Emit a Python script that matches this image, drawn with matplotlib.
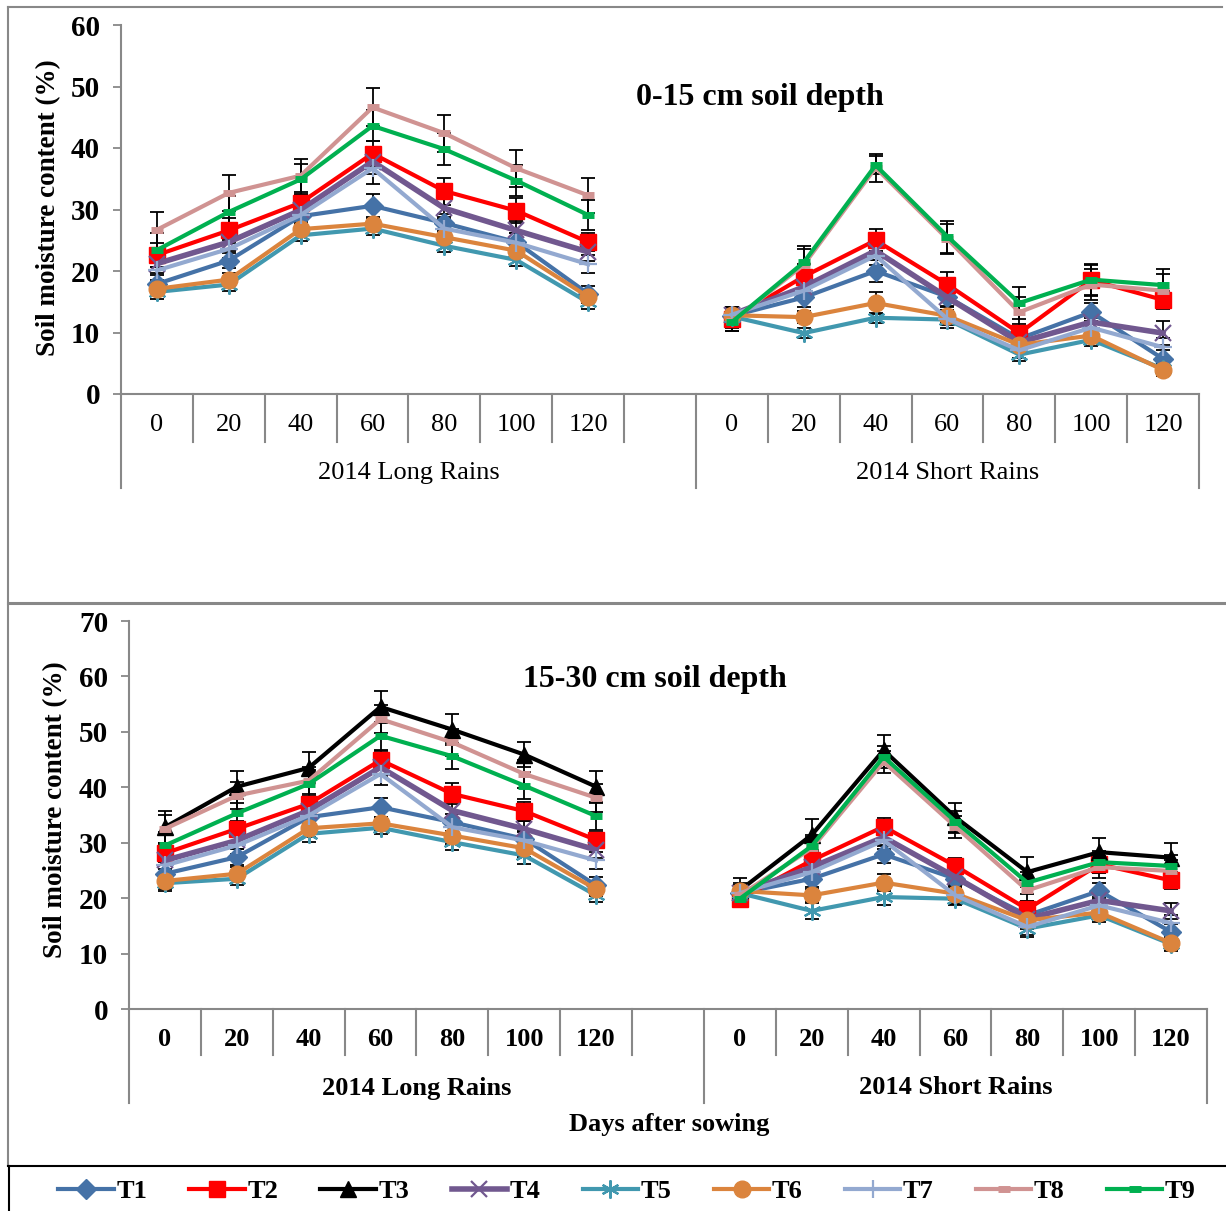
import numpy as np
import matplotlib
matplotlib.use("Agg")
import matplotlib.pyplot as plt
from matplotlib.lines import Line2D
import matplotlib.transforms as mtransforms

plt.rcParams['font.family'] = ['Liberation Serif', 'DejaVu Serif']

# ---------------- data ----------------
days = ["0", "20", "40", "60", "80", "100", "120"]
seasons = ["2014 Long Rains", "2014 Short Rains"]
series_names = ["T1", "T2", "T3", "T4", "T5", "T6", "T7", "T8", "T9"]

# 0-15 cm depth: 7 Long Rains values followed by 7 Short Rains values
d15_T1 = [17.9, 21.7, 28.9, 30.6, 27.8, 24.7, 16.3, 12.7, 15.7, 20.0, 15.8, 9.0, 13.3, 5.7]
d15_T2 = [22.6, 26.6, 31.1, 39.1, 33.0, 29.8, 24.7, 12.2, 19.1, 25.0, 17.8, 9.9, 18.5, 15.3]
d15_T4 = [21.2, 24.7, 29.9, 37.8, 30.2, 26.6, 23.1, 12.9, 17.4, 23.3, 15.7, 8.4, 11.7, 9.9]
d15_T5 = [16.6, 17.8, 25.8, 26.9, 24.1, 21.8, 14.9, 12.6, 9.9, 12.4, 12.1, 6.4, 8.8, 4.1]
d15_T6 = [17.1, 18.6, 26.8, 27.7, 25.5, 23.3, 15.8, 12.8, 12.5, 14.8, 12.7, 8.0, 9.5, 3.9]
d15_T7 = [20.1, 23.6, 29.1, 36.7, 26.9, 24.6, 21.1, 12.9, 16.8, 22.5, 12.2, 7.1, 10.8, 7.6]
d15_T8 = [26.7, 32.7, 35.5, 46.6, 42.4, 36.7, 32.3, 11.8, 21.0, 36.8, 25.2, 13.3, 17.8, 16.8]
d15_T9 = [23.4, 29.6, 34.9, 43.6, 39.8, 34.7, 29.1, 11.7, 21.4, 37.2, 25.6, 14.8, 18.6, 17.7]

e15_T1 = [1.5, 1.2, 1.5, 2.0, 1.5, 1.5, 1.2, 1.5, 1.5, 1.8, 1.5, 1.2, 1.5, 1.5]
e15_T2 = [2.0, 2.0, 1.5, 2.0, 2.2, 2.0, 1.5, 1.5, 2.0, 1.8, 2.0, 1.5, 2.5, 1.5]
e15_T4 = [1.5, 1.5, 1.8, 2.0, 1.5, 1.5, 1.5, 1.2, 1.5, 1.5, 1.5, 1.2, 1.5, 2.0]
e15_T5 = [1.2, 1.0, 1.0, 1.0, 1.0, 1.0, 1.0, 1.2, 0.8, 0.8, 0.8, 1.0, 1.0, 1.0]
e15_T6 = [1.2, 1.0, 1.0, 1.0, 1.0, 1.0, 1.0, 1.2, 1.0, 1.8, 1.0, 1.0, 1.0, 1.0]
e15_T7 = [1.5, 1.5, 1.5, 2.5, 1.5, 1.5, 1.5, 1.2, 1.5, 1.5, 1.5, 1.2, 1.5, 1.5]
e15_T8 = [2.9, 2.9, 2.7, 3.1, 3.0, 3.0, 2.9, 1.5, 2.5, 2.3, 2.5, 2.5, 2.5, 2.7]
e15_T9 = [2.7, 2.6, 2.5, 2.5, 2.6, 2.5, 2.4, 1.5, 2.6, 1.5, 2.6, 2.6, 2.5, 2.7]

# 15-30 cm depth
d30_T1 = [24.4, 27.4, 34.6, 36.4, 33.7, 30.7, 22.3, 20.9, 23.5, 27.9, 23.5, 16.9, 21.3, 13.9]
d30_T2 = [28.1, 32.5, 37.0, 44.9, 38.8, 35.7, 30.5, 19.9, 26.8, 32.9, 25.8, 18.0, 26.1, 23.2]
d30_T3 = [32.8, 40.1, 43.5, 54.5, 50.4, 45.9, 40.1, 21.4, 31.4, 46.7, 34.6, 24.7, 28.3, 27.3]
d30_T4 = [26.8, 30.4, 35.8, 43.6, 35.8, 32.5, 28.7, 20.9, 25.6, 31.0, 23.8, 16.3, 19.6, 17.7]
d30_T5 = [22.7, 23.5, 31.6, 32.7, 30.1, 27.7, 20.5, 20.9, 17.7, 20.2, 19.9, 14.5, 16.9, 11.7]
d30_T6 = [23.1, 24.4, 32.6, 33.5, 31.3, 29.0, 21.6, 21.3, 20.5, 22.8, 20.8, 16.0, 17.4, 11.9]
d30_T7 = [25.9, 29.5, 34.9, 42.4, 32.8, 30.4, 26.8, 20.9, 24.7, 30.4, 20.5, 14.8, 18.7, 15.5]
d30_T8 = [32.5, 38.5, 41.2, 52.3, 48.1, 42.4, 38.1, 20.5, 29.0, 44.6, 32.9, 21.4, 25.6, 24.9]
d30_T9 = [29.5, 35.3, 40.6, 49.3, 45.6, 40.3, 34.8, 19.9, 29.4, 45.5, 33.8, 22.8, 26.5, 25.8]

e30_T1 = [1.5, 1.5, 1.5, 1.7, 1.5, 1.5, 1.5, 1.5, 1.5, 1.5, 1.5, 1.5, 1.5, 1.5]
e30_T2 = [1.5, 1.5, 1.5, 1.7, 1.9, 1.7, 1.5, 1.5, 1.5, 1.5, 1.5, 1.5, 1.5, 1.5]
e30_T3 = [2.9, 2.9, 2.8, 2.9, 2.8, 2.3, 2.9, 2.3, 2.8, 2.7, 2.6, 2.7, 2.6, 2.6]
e30_T4 = [1.5, 1.5, 1.5, 1.5, 1.5, 1.5, 1.5, 1.5, 1.5, 1.5, 1.5, 1.5, 1.5, 1.5]
e30_T5 = [1.5, 1.2, 1.5, 1.2, 1.5, 1.5, 1.2, 1.5, 1.5, 1.5, 1.2, 1.5, 1.2, 1.2]
e30_T6 = [1.5, 1.2, 1.5, 1.2, 1.5, 1.5, 1.2, 1.5, 1.2, 1.5, 1.2, 1.5, 1.2, 1.2]
e30_T7 = [1.5, 1.5, 1.5, 2.0, 1.5, 1.5, 1.5, 1.5, 1.5, 1.5, 1.5, 1.5, 1.5, 1.5]
e30_T8 = [2.5, 2.5, 2.5, 2.5, 2.5, 2.5, 2.5, 1.5, 2.0, 2.0, 2.0, 2.0, 2.0, 2.0]
e30_T9 = [2.5, 2.5, 2.5, 2.5, 2.3, 2.5, 2.5, 1.5, 2.0, 2.0, 2.0, 2.0, 2.0, 2.0]

panel15 = {"T1": (d15_T1, e15_T1), "T2": (d15_T2, e15_T2), "T4": (d15_T4, e15_T4),
           "T5": (d15_T5, e15_T5), "T6": (d15_T6, e15_T6), "T7": (d15_T7, e15_T7),
           "T8": (d15_T8, e15_T8), "T9": (d15_T9, e15_T9)}
panel30 = {"T1": (d30_T1, e30_T1), "T2": (d30_T2, e30_T2), "T3": (d30_T3, e30_T3),
           "T4": (d30_T4, e30_T4), "T5": (d30_T5, e30_T5), "T6": (d30_T6, e30_T6),
           "T7": (d30_T7, e30_T7), "T8": (d30_T8, e30_T8), "T9": (d30_T9, e30_T9)}

# ---------------- styles ----------------
style = {
    "T1": dict(color="#4572A7", marker="D", ms=10, lw=3.0),
    "T2": dict(color="#FF0000", marker="s", ms=11, lw=3.0),
    "T3": dict(color="#000000", marker="^", ms=11, lw=3.0),
    "T4": dict(color="#71588F", marker="x", ms=12, lw=4.0, mew=1.6),
    "T5": dict(color="#4198AF", marker=(6, 2, 0), ms=13, lw=3.0, mew=1.6),
    "T6": dict(color="#DB843D", marker="o", ms=12, lw=3.0),
    "T7": dict(color="#93A9D0", marker="+", ms=13, lw=3.0, mew=1.6),
    "T8": dict(color="#D09392", marker="_", ms=9, lw=3.0, mew=5),
    "T9": dict(color="#00B050", marker="_", ms=9, lw=3.0, mew=5),
}

W, H = 1226, 1211
fig = plt.figure(figsize=(W / 100, H / 100), dpi=100)

def fx(px):
    return px / W

def fy(py):
    return 1 - py / H

GRAY = "#888888"
xpos = np.array(list(range(0, 7)) + list(range(8, 15)))


def draw_panel(ax, data, ymax, bold_cats, ytick_pad, sep_px, grp_px, lab_px, grp_lab_px, ax_h):
    for name in series_names:
        if name not in data:
            continue
        vals, errs = data[name]
        vals = np.array(vals, dtype=float)
        errs = np.array(errs, dtype=float)
        y = np.concatenate([vals[:7], [np.nan], vals[7:]])
        e = np.concatenate([errs[:7], [np.nan], errs[7:]])
        x = np.arange(15)
        st = style[name]
        ax.errorbar(x, y, yerr=e, fmt="none", ecolor="black", elinewidth=1.3,
                    capsize=5, capthick=1.3, zorder=2)
        ax.plot(x, y, color=st["color"], lw=st["lw"], marker=st["marker"],
                ms=st["ms"], mew=st.get("mew", 1.0), mfc=st["color"], mec=st["color"],
                label=name, zorder=3, solid_joinstyle="round")
    ax.set_xlim(-0.5, 14.5)
    ax.set_ylim(0, ymax)
    ax.set_yticks(np.arange(0, ymax + 1, 10))
    ax.tick_params(axis="y", direction="out", length=6, width=1.3, color=GRAY,
                   labelsize=21, pad=ytick_pad)
    for lab in ax.get_yticklabels():
        lab.set_fontweight("bold")
    ax.set_xticks([])
    for s in ["top", "right"]:
        ax.spines[s].set_visible(False)
    for s in ["left", "bottom"]:
        ax.spines[s].set_color(GRAY)
        ax.spines[s].set_linewidth(1.5)
    trans = mtransforms.blended_transform_factory(ax.transData, ax.transAxes)
    sep_y = -sep_px / ax_h
    grp_y = -grp_px / ax_h
    for k in range(16):
        xb = -0.5 + k
        yy = grp_y if k in (0, 8, 15) else sep_y
        ax.add_line(Line2D([xb, xb], [0, yy], transform=trans, color=GRAY, lw=1.5,
                           clip_on=False))
    fw = "bold" if bold_cats else "normal"
    for xi, lab in zip(xpos, days + days):
        ax.text(xi, -lab_px / ax_h, lab, transform=trans, ha="center", va="center",
                fontsize=19, fontweight=fw)
    ax.text(3.5, -grp_lab_px / ax_h, seasons[0], transform=trans, ha="center",
            va="center", fontsize=19, fontweight=fw)
    ax.text(11, -grp_lab_px / ax_h, seasons[1], transform=trans, ha="center",
            va="center", fontsize=19, fontweight=fw)


# top panel
ax1 = fig.add_axes([fx(121), fy(394), fx(1199) - fx(121), fy(25) - fy(394)])
draw_panel(ax1, panel15, 60, False, 9, 48, 94, 31, 79, 369)
fig.text(fx(760), fy(97), "0-15 cm soil depth", ha="center", va="center",
         fontsize=23, fontweight="bold")
fig.text(fx(49), fy(208), "Soil moisture content (%)", rotation=90, ha="center",
         va="center", fontsize=19.5, fontweight="bold")

# bottom panel
ax2 = fig.add_axes([fx(129), fy(1009), fx(1207) - fx(129), fy(621) - fy(1009)])
draw_panel(ax2, panel30, 70, True, 9, 46, 94, 31, 79, 388)
fig.text(fx(655), fy(679), "15-30 cm soil depth", ha="center", va="center",
         fontsize=23, fontweight="bold")
fig.text(fx(56), fy(810), "Soil moisture content (%)", rotation=90, ha="center",
         va="center", fontsize=19.5, fontweight="bold")
fig.text(fx(669), fy(1124), "Days after sowing", ha="center", va="center",
         fontsize=19, fontweight="bold")

# panel borders
fig.add_artist(Line2D([fx(8), fx(8)], [fy(7), fy(1165)], color=GRAY, lw=1.5))
fig.add_artist(Line2D([fx(8), fx(1222)], [fy(7), fy(7)], color=GRAY, lw=1.5))
fig.add_artist(Line2D([fx(8), fx(1226)], [fy(603), fy(603)], color=GRAY, lw=2.2))
# legend box
fig.add_artist(Line2D([fx(8), fx(1226)], [fy(1166), fy(1166)], color="black", lw=1.5))
fig.add_artist(Line2D([fx(9), fx(9)], [fy(1166), fy(1211)], color="black", lw=1.5))

handles = []
for name in series_names:
    st = style[name]
    handles.append(Line2D([], [], color=st["color"], lw=st["lw"], marker=st["marker"],
                          ms=st["ms"], mew=st.get("mew", 1.0), mfc=st["color"],
                          mec=st["color"]))
leg = fig.legend(handles, series_names, loc="center", bbox_to_anchor=(fx(627), fy(1191)),
                 ncol=9, frameon=False, handlelength=2.1, handletextpad=0.1,
                 columnspacing=1.6, prop=dict(size=19, weight="bold"))

fig.savefig("out.png", dpi=100)
